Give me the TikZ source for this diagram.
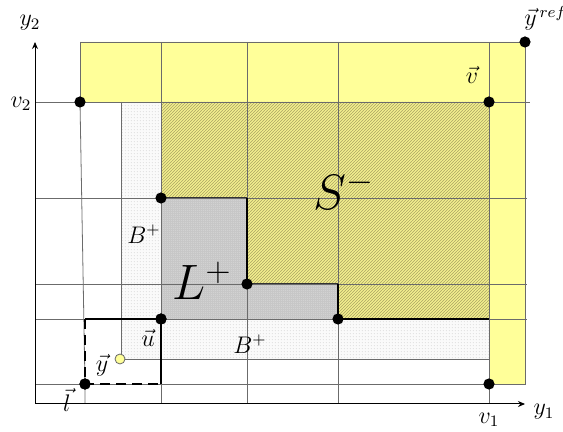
\documentclass[tikz,border=0pt]{standalone}
\usetikzlibrary{patterns.meta,arrows.meta}
\definecolor{lyellow}{RGB}{255,255,153}
\definecolor{syellow}{RGB}{240,236,140}
\definecolor{solive}{RGB}{150,142,60}
\tikzdeclarepattern{
  name=hatchS, type=uncolored,
  bounding box={(0pt,0pt) and (1.6pt,1.6pt)},
  tile size={(1.6pt,1.6pt)},
  code={\draw[line width=0.35pt] (-0.2pt,-0.2pt) -- (1.8pt,1.8pt);}
}
\tikzdeclarepattern{
  name=dotsdense, type=uncolored,
  bounding box={(0pt,0pt) and (1.2pt,1.2pt)},
  tile size={(1.2pt,1.2pt)},
  code={\fill (0.6pt,0.6pt) circle (0.34pt);}
}
\tikzdeclarepattern{
  name=dotslight, type=uncolored,
  bounding box={(0pt,0pt) and (1.6pt,1.6pt)},
  tile size={(1.6pt,1.6pt)},
  code={\fill (0.8pt,0.8pt) circle (0.25pt);}
}
\begin{document}
\begin{tikzpicture}[x=0.5pt,y=-0.5pt,
  gridline/.style={draw=black!58,line width=0.4pt},
  boundline/.style={draw=black,line width=0.9pt},
  thinbound/.style={draw=black!80,line width=0.5pt},
  boxline/.style={draw=black,line width=1.1pt},
  bigdot/.style={circle,fill=black,inner sep=0pt,minimum size=5.6pt},
  ydot/.style={circle,fill=lyellow,draw=gray!80!black,line width=0.4pt,inner sep=0pt,minimum size=5pt},
  lab/.style={inner sep=0pt,font=\fontsize{12}{14}\selectfont},
  biglab/.style={inner sep=0pt,font=\fontsize{23}{26}\selectfont}]
\useasboundingbox (0,0) rectangle (563,432);

% key coordinates
\coordinate (O) at (35,404);
\coordinate (Xend) at (525,404);
\coordinate (Yend) at (35,42);
\coordinate (TL) at (80,42);
\coordinate (TR) at (525,42);
\coordinate (RB) at (525,384);

% yellow region
\fill[lyellow] (80,42) -- (525,42) -- (525,384) -- (489,384) -- (489,102) -- (80,102) -- cycle;
% B+ region
\fill[gray!4] (121,102) -- (161,102) -- (161,319) -- (489,319) -- (489,359) -- (121,359) -- cycle;
\fill[pattern=dotslight,pattern color=gray!55] (121,102) -- (161,102) -- (161,319) -- (489,319) -- (489,359) -- (121,359) -- cycle;
% L+ region
\fill[gray!30] (161,198) -- (247,198) -- (247,284) -- (338,284) -- (338,319) -- (161,319) -- cycle;
\fill[pattern=dotsdense,pattern color=gray!90] (161,198) -- (247,198) -- (247,284) -- (338,284) -- (338,319) -- (161,319) -- cycle;
% S- region
\fill[syellow] (161,102) -- (489,102) -- (489,319) -- (338,319) -- (338,284) -- (247,284) -- (247,198) -- (161,198) -- cycle;
\fill[pattern=hatchS,pattern color=solive!80] (161,102) -- (489,102) -- (489,319) -- (338,319) -- (338,284) -- (247,284) -- (247,198) -- (161,198) -- cycle;

% grid lines
\draw[gridline] (80,42) -- (80,102);
\draw[gridline] (80,102) -- (85,384) -- (85,404);
\draw[gridline] (121,102) -- (121,359) -- (489,359);
\draw[gridline] (161,42) -- (161,404);
\draw[gridline] (247,42) -- (247,404);
\draw[gridline] (338,42) -- (338,404);
\draw[gridline] (489,42) -- (489,404);
\draw[gridline] (TL) -- (TR) -- (RB) -- (489,384);
\draw[gridline] (35,102) -- (530,102);
\draw[gridline] (35,198) -- (527,198);
\draw[gridline] (35,284) -- (527,284);
\draw[gridline] (35,319) -- (527,319);
\draw[gridline] (35,384) -- (489,384);

% boundaries of S- / L+
\draw[thinbound] (161,198) -- (247,198);
\draw[boundline] (247,198) -- (247,284);
\draw[thinbound] (247,284) -- (338,284);
\draw[boundline] (338,284) -- (338,319);
\draw[boundline] (338,319) -- (489,319);

% axes
\draw[line width=0.5pt,-{Stealth[length=3.5pt,width=3pt]}] (O) -- (Xend);
\draw[line width=0.5pt,-{Stealth[length=3.5pt,width=3pt]}] (O) -- (Yend);

% dots
\node[bigdot] (yref) at (525,42) {};
\node[bigdot] (vtwo) at (80,102) {};
\node[bigdot] (v) at (489,102) {};
\node[bigdot] (c1) at (161,198) {};
\node[bigdot] (c2) at (247,284) {};
\node[bigdot] (c3) at (338,319) {};
\node[bigdot] (u) at (161,319) {};
\node[bigdot] (l) at (85,384) {};
\node[bigdot] (vone) at (489,384) {};
\coordinate (lu) at (85,319);
\coordinate (ul) at (161,384);

% box around l--u
\draw[boxline] (lu) -- (u.center) -- (ul);
\draw[boxline,dash pattern=on 5pt off 3pt] (lu) -- (l.center) -- (ul);
\node[bigdot] at (u) {};
\node[bigdot] at (l) {};

\node[ydot] (y) at (120,359) {};

% labels
\node[lab] (ly2) at (30,23) {$y_2$};
\node[lab] (lv2) at (21,104) {$v_2$};
\node[lab] (ly1) at (544,412) {$y_1$};
\node[lab] (lv1) at (489,420) {$v_1$};
\node[lab,anchor=base west] (lyref) at (524,26) {$\vec{y}^{\,ref}$};
\node[lab] (lv) at (472,75) {$\vec{v}$};
\node[lab] (ll) at (67,400) {$\vec{l}$};
\node[lab] (ly) at (102,365) {$\vec{y}$};
\node[lab] (lu2) at (148,338) {$\vec{u}$};
\node[lab] (lb1) at (144,234) {$B^+$};
\node[lab] (lb2) at (250,344) {$B^+$};
\node[biglab] (lL) at (202,281) {$L^+$};
\node[biglab] (lS) at (344,190) {$S^-$};
\end{tikzpicture}
\end{document}
